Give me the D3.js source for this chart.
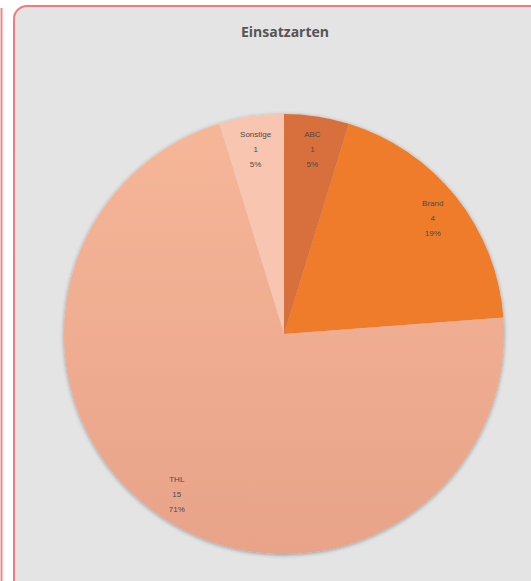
<!DOCTYPE html>
<html><head><meta charset="utf-8">
<script src="https://cdn.jsdelivr.net/npm/d3@7"></script>
<style>html,body{margin:0;padding:0;background:#fff;}svg{display:block;}</style>
</head><body>
<svg id="chart" width="531" height="581"></svg>
<script>
const categories = ["ABC", "Brand", "THL", "Sonstige"];
const values = [1, 4, 15, 1];
const percentLabels = ["5%", "19%", "71%", "5%"];
const colors = ["#d8703c", "#ee7c2b", "#f3ae92", "#f7c5b0"];
const title = "Einsatzarten";

const svg = d3.select("#chart");
const W = 531, H = 581;

// neighbouring panel edge on the left
svg.append("line").attr("x1", 1.5).attr("x2", 1.5).attr("y1", 8).attr("y2", H)
  .attr("stroke", "#e98a8c").attr("stroke-width", 2);

// panel
svg.append("rect").attr("x", 14).attr("y", 6).attr("width", 540).attr("height", 600)
  .attr("rx", 13).attr("fill", "#e4e4e4").attr("stroke", "#ea7f81").attr("stroke-width", 2);

svg.append("text").attr("x", 285).attr("y", 37).attr("text-anchor", "middle")
  .attr("font-family", "Open Sans, Lato, sans-serif").attr("font-weight", "bold")
  .attr("font-size", 14).attr("fill", "#555").text(title);

const cx = 284, cy = 334, R = 220;
const data = categories.map((c, i) => ({ cat: c, value: values[i], pct: percentLabels[i], color: colors[i] }));
const pie = d3.pie().sort(null).value(d => d.value);
const arcs = pie(data);
const arc = d3.arc().innerRadius(0).outerRadius(R);
const labelArc = d3.arc().innerRadius(R * 0.865).outerRadius(R * 0.865);

const defs = svg.append("defs");
const f = defs.append("filter").attr("id", "sh").attr("x", "-10%").attr("y", "-10%").attr("width", "120%").attr("height", "120%");
f.append("feGaussianBlur").attr("in", "SourceAlpha").attr("stdDeviation", 2);
f.append("feOffset").attr("dx", 0).attr("dy", 1).attr("result", "b");
f.append("feComponentTransfer").append("feFuncA").attr("type", "linear").attr("slope", 0.35);
const m = f.append("feMerge"); m.append("feMergeNode"); m.append("feMergeNode").attr("in", "SourceGraphic");

const gTHL = defs.append("linearGradient").attr("id", "gthl").attr("x1", 0).attr("y1", 0).attr("x2", 0).attr("y2", 1);
gTHL.append("stop").attr("offset", "0%").attr("stop-color", "#f6b698");
gTHL.append("stop").attr("offset", "100%").attr("stop-color", "#e8a389");

const g = svg.append("g").attr("transform", `translate(${cx},${cy})`);
g.append("g").attr("filter", "url(#sh)").selectAll("path").data(arcs).join("path")
  .attr("d", arc)
  .attr("fill", d => d.data.cat === "THL" ? "url(#gthl)" : d.data.color);

const lab = g.selectAll("g.lab").data(arcs).join("g").attr("class", "lab")
  .attr("transform", d => `translate(${labelArc.centroid(d)})`);
lab.each(function(d) {
  const t = d3.select(this).append("text").attr("text-anchor", "middle")
    .attr("font-family", "Liberation Sans, Arial, sans-serif").attr("font-size", 8).attr("fill", "#4a4a4a");
  [d.data.cat, String(d.data.value), d.data.pct].forEach((s, i) => {
    t.append("tspan").attr("x", 0).attr("y", -12 + i * 15 + 3).text(s);
  });
});
</script>
</body></html>
